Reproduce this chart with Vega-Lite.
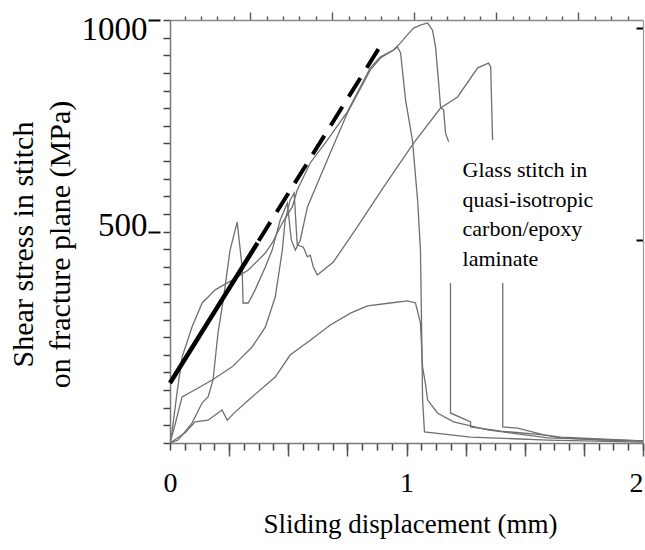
{
  "$schema": "https://vega.github.io/schema/vega-lite/v6.json",
  "width": 473,
  "height": 423,
  "autosize": "none",
  "padding": {"left": 170, "top": 20, "right": 2, "bottom": 107},
  "background": "white",
  "config": {
    "view": {"stroke": null},
    "font": "Liberation Serif",
    "axis": {"labelFont": "Liberation Serif", "titleFont": "Liberation Serif", "labelColor": "black", "titleColor": "black", "titleFontWeight": "normal", "grid": false, "labelOverlap": false}
  },
  "datasets": {
    "curves": [
      {"c":"A","i":0,"x":0,"y":0},{"c":"A","i":1,"x":0.034,"y":7},{"c":"A","i":2,"x":0.093,"y":47},{"c":"A","i":3,"x":0.136,"y":95},{"c":"A","i":4,"x":0.161,"y":109},{"c":"A","i":5,"x":0.182,"y":149},{"c":"A","i":6,"x":0.203,"y":260},{"c":"A","i":7,"x":0.225,"y":338},{"c":"A","i":8,"x":0.254,"y":456},{"c":"A","i":9,"x":0.284,"y":522},{"c":"A","i":10,"x":0.305,"y":416},{"c":"A","i":11,"x":0.309,"y":331},{"c":"A","i":12,"x":0.331,"y":331},{"c":"A","i":13,"x":0.36,"y":362},{"c":"A","i":14,"x":0.403,"y":416},{"c":"A","i":15,"x":0.432,"y":456},{"c":"A","i":16,"x":0.466,"y":527},{"c":"A","i":17,"x":0.496,"y":567},{"c":"A","i":18,"x":0.513,"y":480},{"c":"A","i":19,"x":0.53,"y":456},{"c":"A","i":20,"x":0.551,"y":480},{"c":"A","i":21,"x":0.581,"y":558},{"c":"A","i":22,"x":0.665,"y":669},{"c":"A","i":23,"x":0.75,"y":780},{"c":"A","i":24,"x":0.847,"y":882},{"c":"A","i":25,"x":0.89,"y":910},{"c":"A","i":26,"x":0.945,"y":929},{"c":"A","i":27,"x":0.975,"y":946},{"c":"A","i":28,"x":0.996,"y":960},{"c":"A","i":29,"x":1.03,"y":981},{"c":"A","i":30,"x":1.059,"y":988},{"c":"A","i":31,"x":1.089,"y":993},{"c":"A","i":32,"x":1.11,"y":976},{"c":"A","i":33,"x":1.123,"y":936},{"c":"A","i":34,"x":1.136,"y":851},{"c":"A","i":35,"x":1.144,"y":794},{"c":"A","i":36,"x":1.157,"y":787},{"c":"A","i":37,"x":1.165,"y":733},{"c":"A","i":38,"x":1.178,"y":712},
      {"c":"A2","i":0,"x":1.186,"y":378},{"c":"A2","i":1,"x":1.186,"y":71},{"c":"A2","i":2,"x":1.271,"y":50},{"c":"A2","i":3,"x":1.271,"y":38},{"c":"A2","i":4,"x":1.4,"y":28},{"c":"A2","i":5,"x":1.568,"y":20},{"c":"A2","i":6,"x":1.653,"y":14},{"c":"A2","i":7,"x":2.0,"y":5},
      {"c":"B","i":0,"x":0,"y":0},{"c":"B","i":1,"x":0.008,"y":24},{"c":"B","i":2,"x":0.03,"y":120},{"c":"B","i":3,"x":0.051,"y":203},{"c":"B","i":4,"x":0.093,"y":274},{"c":"B","i":5,"x":0.136,"y":331},{"c":"B","i":6,"x":0.191,"y":362},{"c":"B","i":7,"x":0.263,"y":385},{"c":"B","i":8,"x":0.331,"y":409},{"c":"B","i":9,"x":0.403,"y":449},{"c":"B","i":10,"x":0.432,"y":473},{"c":"B","i":11,"x":0.475,"y":520},{"c":"B","i":12,"x":0.517,"y":558},{"c":"B","i":13,"x":0.538,"y":598},{"c":"B","i":14,"x":0.593,"y":662},{"c":"B","i":15,"x":0.665,"y":716},{"c":"B","i":16,"x":0.75,"y":783},{"c":"B","i":17,"x":0.847,"y":887},{"c":"B","i":18,"x":0.89,"y":913},{"c":"B","i":19,"x":0.945,"y":929},{"c":"B","i":20,"x":0.962,"y":936},{"c":"B","i":21,"x":0.975,"y":922},{"c":"B","i":22,"x":0.996,"y":811},{"c":"B","i":23,"x":1.025,"y":716},{"c":"B","i":24,"x":1.047,"y":574},{"c":"B","i":25,"x":1.059,"y":456},{"c":"B","i":26,"x":1.064,"y":267},{"c":"B","i":27,"x":1.068,"y":102},{"c":"B","i":28,"x":1.076,"y":26},{"c":"B","i":29,"x":1.271,"y":14},{"c":"B","i":30,"x":1.597,"y":7},{"c":"B","i":31,"x":2.0,"y":2},
      {"c":"C","i":0,"x":0,"y":0},{"c":"C","i":1,"x":0.021,"y":43},{"c":"C","i":2,"x":0.051,"y":109},{"c":"C","i":3,"x":0.119,"y":130},{"c":"C","i":4,"x":0.178,"y":149},{"c":"C","i":5,"x":0.263,"y":180},{"c":"C","i":6,"x":0.347,"y":227},{"c":"C","i":7,"x":0.403,"y":274},{"c":"C","i":8,"x":0.445,"y":345},{"c":"C","i":9,"x":0.475,"y":456},{"c":"C","i":10,"x":0.487,"y":527},{"c":"C","i":11,"x":0.508,"y":574},{"c":"C","i":12,"x":0.525,"y":591},{"c":"C","i":13,"x":0.538,"y":468},{"c":"C","i":14,"x":0.564,"y":463},{"c":"C","i":15,"x":0.581,"y":440},{"c":"C","i":16,"x":0.593,"y":444},{"c":"C","i":17,"x":0.606,"y":416},{"c":"C","i":18,"x":0.623,"y":397},{"c":"C","i":19,"x":0.691,"y":428},{"c":"C","i":20,"x":0.792,"y":511},{"c":"C","i":21,"x":0.903,"y":605},{"c":"C","i":22,"x":1.03,"y":709},{"c":"C","i":23,"x":1.144,"y":792},{"c":"C","i":24,"x":1.216,"y":818},{"c":"C","i":25,"x":1.301,"y":887},{"c":"C","i":26,"x":1.347,"y":898},{"c":"C","i":27,"x":1.356,"y":889},{"c":"C","i":28,"x":1.364,"y":716},
      {"c":"C2","i":0,"x":1.407,"y":378},{"c":"C2","i":1,"x":1.407,"y":38},{"c":"C2","i":2,"x":1.47,"y":35},{"c":"C2","i":3,"x":1.581,"y":19},{"c":"C2","i":4,"x":1.653,"y":12},{"c":"C2","i":5,"x":1.822,"y":7},{"c":"C2","i":6,"x":2.0,"y":5},
      {"c":"D","i":0,"x":0,"y":0},{"c":"D","i":1,"x":0.064,"y":24},{"c":"D","i":2,"x":0.106,"y":50},{"c":"D","i":3,"x":0.161,"y":54},{"c":"D","i":4,"x":0.22,"y":78},{"c":"D","i":5,"x":0.242,"y":54},{"c":"D","i":6,"x":0.275,"y":73},{"c":"D","i":7,"x":0.347,"y":109},{"c":"D","i":8,"x":0.445,"y":156},{"c":"D","i":9,"x":0.508,"y":208},{"c":"D","i":10,"x":0.593,"y":243},{"c":"D","i":11,"x":0.678,"y":279},{"c":"D","i":12,"x":0.763,"y":307},{"c":"D","i":13,"x":0.835,"y":324},{"c":"D","i":14,"x":0.932,"y":331},{"c":"D","i":15,"x":1.004,"y":336},{"c":"D","i":16,"x":1.038,"y":331},{"c":"D","i":17,"x":1.059,"y":284},{"c":"D","i":18,"x":1.068,"y":180},{"c":"D","i":19,"x":1.081,"y":137},{"c":"D","i":20,"x":1.089,"y":102},{"c":"D","i":21,"x":1.131,"y":71},{"c":"D","i":22,"x":1.199,"y":50},{"c":"D","i":23,"x":1.343,"y":31},{"c":"D","i":24,"x":1.597,"y":12},{"c":"D","i":25,"x":2.0,"y":5}
    ],
    "fitSolid": [{"x": 0, "y": 142}, {"x": 0.37, "y": 473}],
    "fitDash": [{"x": 0.375, "y": 478}, {"x": 0.9, "y": 948}],
    "note": [{"x": 1.237, "y": 629, "label": "Glass stitch in|quasi-isotropic|carbon/epoxy|laminate"}]
  },
  "resolve": {"axis": {"x": "independent", "y": "independent"}},
  "layer": [
    {
      "data": {"name": "curves"},
      "mark": {"type": "line", "color": "#6f6f6f", "strokeWidth": 1.3, "clip": true},
      "encoding": {
        "x": {"field": "x", "type": "quantitative", "scale": {"domain": [0, 2], "nice": false, "zero": false},
          "axis": {"orient": "bottom", "values": [0,0.0625,0.125,0.1875,0.25,0.3125,0.375,0.4375,0.5,0.5625,0.625,0.6875,0.75,0.8125,0.875,0.9375,1,1.0625,1.125,1.1875,1.25,1.3125,1.375,1.4375,1.5,1.5625,1.625,1.6875,1.75,1.8125,1.875,1.9375,2],
            "labels": false, "ticks": true, "tickSize": 7, "tickColor": "#444444", "tickWidth": 1.5, "tickOpacity": 1, "domainColor": "#7a7a7a", "domainWidth": 1.5, "title": null}},
        "y": {"field": "y", "type": "quantitative", "scale": {"domain": [0, 1000], "nice": false},
          "axis": {"orient": "left", "values": [0,41.667,83.333,125,166.667,208.333,250,291.667,333.333,375,416.667,458.333,500,541.667,583.333,625,666.667,708.333,750,791.667,833.333,875,916.667,958.333,1000],
            "labels": false, "ticks": true, "tickSize": 7, "tickColor": "#444444", "tickWidth": 1.5, "tickOpacity": 1, "domainColor": "#7a7a7a", "domainWidth": 1.5,
            "title": ["Shear stress in stitch", "on fracture plane (MPa)"], "titleFontSize": 30, "titleAngle": -90, "titleX": -147, "titleY": 224, "titleAlign": "center", "titleBaseline": "middle", "titleLineHeight": 37}},
        "detail": {"field": "c"},
        "order": {"field": "i"}
      }
    },
    {
      "data": {"name": "fitSolid"},
      "mark": {"type": "line", "color": "black", "strokeWidth": 4.5, "strokeCap": "butt"},
      "encoding": {
        "x": {"field": "x", "type": "quantitative", "scale": {"domain": [0, 2], "nice": false, "zero": false},
          "axis": {"orient": "bottom", "values": [0.25,0.5,0.75,1,1.25,1.5,1.75,2], "labels": false, "domain": false, "ticks": true, "tickSize": 13, "tickColor": "#555555", "tickWidth": 1.5, "tickOpacity": 1, "title": null}},
        "y": {"field": "y", "type": "quantitative", "scale": {"domain": [0, 1000], "nice": false},
          "axis": {"orient": "left", "values": [500, 1000], "format": "d", "offset": 10, "domain": false, "tickSize": 12, "tickColor": "black", "tickWidth": 2,
            "labelFontSize": 33, "labelPadding": 1, "labelOffset": {"condition": {"test": "datum.value == 1000", "value": 9}, "value": -6}, "title": null}}
      }
    },
    {
      "data": {"name": "fitDash"},
      "mark": {"type": "line", "color": "black", "strokeWidth": 4, "strokeDash": [22, 12], "strokeCap": "butt"},
      "encoding": {
        "x": {"field": "x", "type": "quantitative", "scale": {"domain": [0, 2], "nice": false, "zero": false},
          "axis": {"orient": "bottom", "values": [0, 1, 2], "labelExpr": "datum.value < 0.5 ? '0' : (datum.value < 1.5 ? '1' : '2')", "ticks": false, "domain": false, "labelFontSize": 28, "labelPadding": 26, "labelFlush": false, "labelOverlap": false, "labelBound": false,
            "labelAlign": {"condition": {"test": "datum.value > 1.5", "value": "right"}, "value": "center"},
            "title": "Sliding displacement (mm)", "titleFontSize": 27, "titleX": 240, "titleY": 89, "titleBaseline": "alphabetic", "titleAlign": "center"}},
        "y": {"field": "y", "type": "quantitative", "scale": {"domain": [0, 1000], "nice": false}, "axis": null}
      }
    },
    {
      "data": {"name": "note"},
      "mark": {"type": "text", "align": "left", "baseline": "alphabetic", "fontSize": 22, "lineHeight": 29.7, "lineBreak": "|", "font": "Liberation Serif", "color": "black"},
      "encoding": {
        "x": {"field": "x", "type": "quantitative", "scale": {"domain": [0, 2], "nice": false, "zero": false},
          "axis": {"orient": "top", "values": [0.0614,0.1308,0.2002,0.2696,0.339,0.4084,0.4778,0.5472,0.6166,0.686,0.7554,0.8248,0.8942,0.9636,1.033,1.1024,1.1718,1.2412,1.3106,1.38,1.4494,1.5188,1.5882,1.6576,1.727,1.7964,1.8658,1.9352],
            "labels": false, "ticks": true, "tickSize": {"condition": {"test": "abs((datum.value - 0.339) / 0.347 - round((datum.value - 0.339) / 0.347)) < 0.05", "value": 8}, "value": 4},
            "tickColor": "#555555", "tickWidth": 1.4, "tickOpacity": 1, "domainColor": "#8a8a8a", "domainWidth": 1.3, "title": null}},
        "y": {"field": "y", "type": "quantitative", "scale": {"domain": [0, 1000], "nice": false},
          "axis": {"orient": "right", "values": [500, 1000], "labels": false, "tickSize": -7, "tickColor": "black", "tickWidth": 2, "tickOffset": 8, "domainColor": "#9a9a9a", "domainWidth": 1.2, "title": null}},
        "text": {"field": "label"}
      }
    }
  ]
}
